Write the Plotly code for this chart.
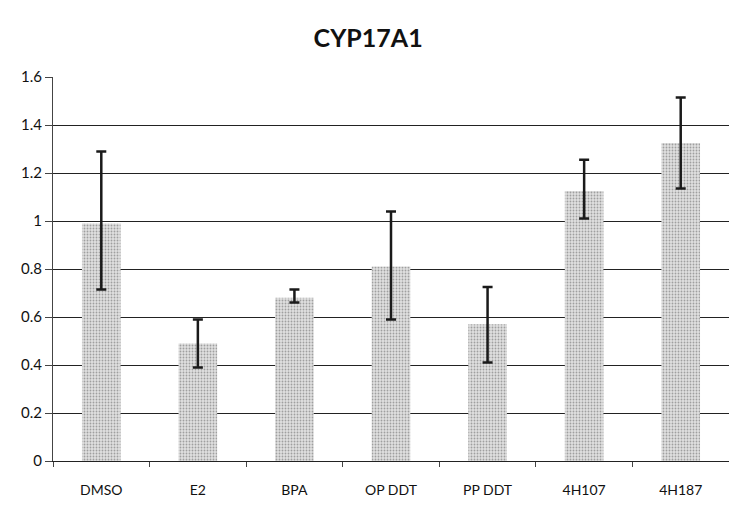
import plotly.graph_objects as go

categories = ["DMSO", "E2", "BPA", "OP DDT", "PP DDT", "4H107", "4H187"]
values = [0.99, 0.49, 0.68, 0.81, 0.57, 1.125, 1.325]
err_upper = [1.29, 0.59, 0.715, 1.04, 0.725, 1.255, 1.515]
err_lower = [0.715, 0.39, 0.66, 0.59, 0.41, 1.01, 1.135]
y_ticks = [0, 0.2, 0.4, 0.6, 0.8, 1.0, 1.2, 1.4, 1.6]
y_tick_labels = ["0", "0.2", "0.4", "0.6", "0.8", "1", "1.2", "1.4", "1.6"]

plus = [u - v for u, v in zip(err_upper, values)]
minus = [v - l for v, l in zip(values, err_lower)]

fig = go.Figure()
fig.add_trace(go.Bar(
    x=categories, y=values, width=0.4,
    marker=dict(color="#d4d4d4", line=dict(width=0),
                pattern=dict(shape=".", fgcolor="#5e5e5e", bgcolor="#e0e0e0",
                             size=3, solidity=0.3)),
    error_y=dict(type="data", symmetric=False, array=plus, arrayminus=minus,
                 color="#1a1a1a", thickness=2.5, width=5),
))
fig.update_layout(
    width=729, height=507,
    margin=dict(l=53, r=0, t=77, b=46),
    paper_bgcolor="white", plot_bgcolor="white",
    showlegend=False,
    title=dict(text="<b>CYP17A1</b>", x=0.505, xanchor="center", y=0.925, yanchor="middle",
               font=dict(family="Lato, Open Sans, sans-serif", size=25, color="#111")),
    font=dict(family="Lato, Open Sans, sans-serif", size=14, color="#111"),
)
fig.update_yaxes(range=[0, 1.6], tickvals=y_ticks, ticktext=y_tick_labels,
                 automargin=False,
                 showgrid=True, gridcolor="#222", gridwidth=1,
                 showline=True, linecolor="#444", linewidth=1,
                 ticks="outside", ticklen=7, tickcolor="#444",
                 zeroline=False, tickfont=dict(size=15))
fig.update_xaxes(showline=True, linecolor="#222", linewidth=1.2, automargin=False,
                 ticks="outside", tickson="boundaries", ticklen=5, tickcolor="#444",
                 ticklabelstandoff=16, tickfont=dict(size=14))
fig.write_html("out.html", config={"displayModeBar": False},
               post_script="document.body.style.margin='0';document.body.style.overflow='hidden';")
